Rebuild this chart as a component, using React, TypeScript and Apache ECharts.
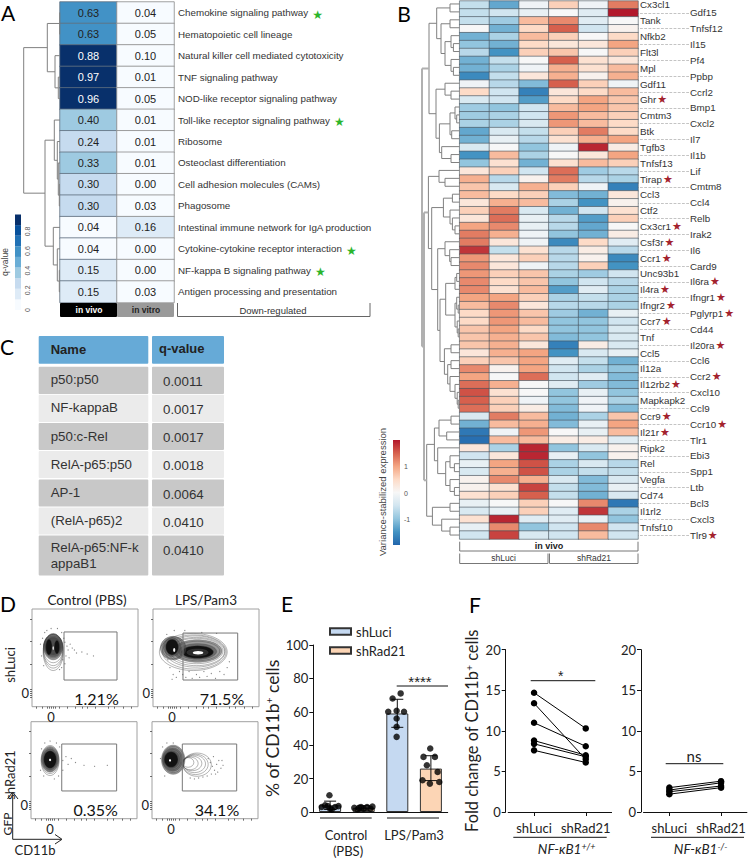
import React, { useEffect, useRef } from "react";
import * as echarts from "echarts";

const SANS = '"Liberation Sans", Arial, sans-serif';
const LATO = 'Lato, "Noto Sans", sans-serif';

// ---------- Panel A ----------
const pathways = [
  "Chemokine signaling pathway", "Hematopoietic cell lineage", "Natural killer cell mediated cytotoxicity",
  "TNF signaling pathway", "NOD-like receptor signaling pathway", "Toll-like receptor signaling pathway",
  "Ribosome", "Osteoclast differentiation", "Cell adhesion molecules (CAMs)", "Phagosome",
  "Intestinal immune network for IgA production", "Cytokine-cytokine receptor interaction",
  "NF-kappa B signaling pathway", "Antigen processing and presentation",
];
const starredPathways = [
  "Chemokine signaling pathway", "Toll-like receptor signaling pathway",
  "Cytokine-cytokine receptor interaction", "NF-kappa B signaling pathway",
];
const qInVivo = [0.63, 0.63, 0.88, 0.97, 0.96, 0.4, 0.24, 0.33, 0.3, 0.3, 0.04, 0.04, 0.15, 0.15];
const qInVitro = [0.04, 0.05, 0.1, 0.01, 0.05, 0.01, 0.01, 0.01, 0.0, 0.03, 0.16, 0.0, 0.0, 0.03];
const blues = ["#f7fbff", "#deebf7", "#c6dbef", "#9ecae1", "#6baed6", "#4292c6", "#2171b5", "#08519c", "#08306b"];
const blueEdges = [0, 0.108, 0.216, 0.324, 0.432, 0.54, 0.648, 0.756, 0.864, 0.972];
// tree: [height, child, child]; a number is a row
const treeA: any = [36.3,
  [12.7, [0.3, 0, 1], [5, 2, [1.7, 3, 4]]],
  [15, [5.7, 5, [2.7, 6, [1.7, 7, [0.7, 8, 9]]]], [6.7, 10, [2.7, 11, [0.7, 12, 13]]]],
];

// ---------- Panel B ----------
const genes = [
  "Cx3cl1", "Gdf15", "Tank", "Tnfsf12", "Nfkb2", "Il15", "Flt3l", "Pf4", "Mpl", "Ppbp", "Gdf11", "Ccrl2", "Ghr", "Bmp1",
  "Cmtm3", "Cxcl2", "Btk", "Il7", "Tgfb3", "Il1b", "Tnfsf13", "Lif", "Tirap", "Cmtm8", "Ccl3", "Ccl4", "Ctf2", "Relb",
  "Cx3cr1", "Irak2", "Csf3r", "Il6", "Ccr1", "Card9", "Unc93b1", "Il6ra", "Il4ra", "Ifngr1", "Ifngr2", "Pglyrp1", "Ccr7",
  "Cd44", "Tnf", "Il20ra", "Ccl5", "Ccl6", "Il12a", "Ccr2", "Il12rb2", "Cxcl10", "Mapkapk2", "Ccl9", "Ccr9", "Ccr10",
  "Il21r", "Tlr1", "Ripk2", "Ebi3", "Rel", "Spp1", "Vegfa", "Ltb", "Cd74", "Bcl3", "Il1rl2", "Cxcl3", "Tnfsf10", "Tlr9",
];
const starredGenes = ["Ghr", "Tirap", "Cx3cr1", "Csf3r", "Ccr1", "Il6ra", "Il4ra", "Ifngr1", "Ifngr2", "Pglyrp1", "Ccr7",
  "Il20ra", "Ccr2", "Il12rb2", "Ccr9", "Ccr10", "Il21r", "Tlr9"];
const expression = [
  [-0.6, -1.3, -0.1, 0.6, -0.1, 1.3], [-0.6, -0.5, -0.2, 0, -0.3, 2], [-0.6, -0.9, 0.8, 1.2, -0.3, 0],
  [0, -1.2, 0.5, 1.5, -0.5, 0.1], [-1.2, -0.8, 0.8, 0.6, 0, 0.5], [-1, -1.2, 0.5, 0.3, 0.3, 1],
  [-0.7, -1.5, 0.6, 0.7, 0, 0.6], [-1.2, -0.6, 0, 1.5, 0.4, 0.3], [-1.2, -0.8, -0.1, 0.9, 0.4, 0.8],
  [-1.6, -0.6, 0.3, 0.9, 0.1, 0.9], [-0.1, -0.7, -1.1, 1.5, 0.6, -0.1], [0.5, -0.5, -1.7, 0.3, 0.5, 0.8],
  [-0.4, -0.5, -1.4, 0.5, 1, 0.7], [-0.9, -1, -0.5, 0.8, 1, 0.7], [-0.9, -0.8, -0.5, 1.1, 0.8, 0.6],
  [-0.8, -0.8, -0.4, 1.1, 0.8, 0.5], [-1.3, -0.4, -0.6, 0.6, 1.3, 0.5], [-1.2, -0.2, -0.7, 0.4, 0.9, 1],
  [-0.4, 0, -1, -0.1, 1.9, 0.2], [-1.5, 0.8, -0.8, 0, 0.3, 1], [-1, 0.4, -1.2, 0.4, 0.8, 0.6],
  [0.3, 0.6, -0.5, 1.4, -0.9, -0.7], [0.9, -0.7, 0.1, 1.3, -0.7, -0.8], [0.7, -0.4, 0.9, 0.6, -0.1, -1.7],
  [0.8, 0.5, 0.6, -1.1, -1.2, 0.3], [0.3, 0.9, 0.8, -0.8, -1.5, 0.1], [0.6, 1.3, -0.4, -1.2, -0.5, 0.4],
  [0.3, 1.4, -0.2, -0.7, -1.4, 0.6], [1, 1.2, -0.2, -0.7, -1.3, 0], [1.3, 0.9, -0.1, -1, -1.2, 0.2],
  [1.3, 0.3, -0.1, -1.6, 0.5, -0.3], [1.8, -0.6, 0.4, -0.7, 0.2, -0.7], [1.1, 0.3, 0.6, -0.7, 0.1, -1.6],
  [1.2, 0.3, -0.1, -0.7, 0.6, -1.5], [1.1, 0.6, 0.7, -0.8, -0.9, -0.5], [1.2, 0.5, 0.7, -1, -0.5, -0.7],
  [1.2, 0.4, 0.8, -1.4, -0.3, -0.8], [1, 1, 0.6, -0.8, -0.6, -0.8], [0.8, 1.2, 0.3, -0.7, -0.7, -0.8],
  [0.5, 1.1, 0.7, -0.9, -1.2, -0.2], [0.5, 1.1, 0.8, -1, -1, -0.5], [0.7, 1, 0.5, -1, -1, -0.4],
  [0.7, 0.9, 0.7, -1.1, -1, -0.4], [0.7, 0.9, 0.3, -1.7, 0.2, -0.4], [0.3, 0.9, 1, -1.5, -0.4, -0.2],
  [0.6, 0.7, 1, -0.3, -0.6, -1.2], [1.2, 0.1, 1, -0.5, -0.8, -1], [1, 0, 1.4, -0.5, -0.3, -1.1],
  [1.4, 0.9, 0, -0.3, -0.9, -1.1], [1.6, 0.4, 0, -1, -0.2, -1], [1.5, 0.6, -0.1, -1, -0.1, -0.8],
  [1.4, 0.6, 0.2, -1.1, -0.1, -1.1], [-0.4, 1.3, 0.8, -1.2, -0.8, 0.7], [-1.2, 0.8, 0.9, -1.1, -0.2, 1],
  [-1.8, -0.1, 1.1, 0, -0.2, 0.8], [-1.9, 0.8, 0.8, 0.2, 0.2, -0.3], [0.3, -0.8, 1.9, -1, -0.4, 0.1],
  [-0.5, 0.3, 1.9, -0.2, -1, 0.1], [-0.2, 1, 1.6, -0.8, -0.4, -0.7], [-0.4, 0.9, 1.6, -0.8, -0.6, -0.6],
  [0.1, 1.2, 0.9, -0.4, -1.1, -0.4], [0.1, 0.4, 1.7, -0.6, -1.1, -0.2], [0.4, 0.6, 1.5, -0.6, -1.2, -0.4],
  [-0.2, 0, 0.6, 0, 1.2, -1.8], [-0.4, -0.2, 0.6, -0.3, 1.8, -0.8], [0.4, 1.9, -0.3, -0.3, -0.2, -1],
  [-0.2, 1.2, -1, -0.5, 1.2, -0.5], [-0.5, 1.7, -0.4, -0.5, 0.8, -0.5],
];
const rdbu = ["#2166ac", "#4393c3", "#92c5de", "#d1e5f0", "#f7f7f7", "#fddbc7", "#f4a582", "#d6604d", "#b2182b"];
const treeB: any = [37.7,
  [30.7,
    [23, [9.7, 0, 1], [18.7, [9.7, 2, 3], [14.7, [8.7, 4, [6.3, 5, 6]], [8.7, 7, [6.3, 8, 9]]]]],
    [23.7, [14.7, 10, [8.7, 11, 12]], [20.3, [9.7, [4.7, 13, [3, 14, 15]], [8, 16, 17]], [18, 18, [8.7, 19, 20]]]],
  ],
  [35.7,
    [31.3,
      [20.7, 21, [14.7, 22, 23]],
      [28,
        [16.3, [7.3, 24, 25], [9.7, 26, [7.3, 27, [4.7, 28, 29]]]],
        [22,
          [14.7, 30, [10, 31, [8.7, 32, 33]]],
          [19.7,
            [14, [4.7, [3, 34, 35], 36], [4.7, [3, 37, [1.5, 38, 39]], [2.5, 40, [1.5, 41, 42]]]],
            [15.3, [8.7, 43, 44], [12, [8.7, 45, 46], [9.7, 47, [4.7, 48, [2.5, 49, [1.5, 50, 51]]]]]],
          ],
        ],
      ],
    ],
    [33,
      [25.3, [20.7, [8.7, 52, 53], [13, 54, 55]], [22, 56, [14, [9.7, 57, [5.3, 58, 59]], [9.7, 60, [5.3, 61, 62]]]]],
      [27.3, [9.7, 63, 64], [18, 65, [9.7, 66, 67]]],
    ],
  ],
];

// ---------- Panel C ----------
const tfNames = ["p50:p50", "NF-kappaB", "p50:c-Rel", "RelA-p65:p50", "AP-1", "(RelA-p65)2", "RelA-p65:NF-k\nappaB1"];
const tfQValues = ["0.0011", "0.0017", "0.0017", "0.0018", "0.0064", "0.0410", "0.0410"];

// ---------- Panel D: axis units 0-100; [cx, cy, rx, ry, shade] ----------
const flowTitles = ["Control (PBS)", "LPS/Pam3"];
const flowPercents = ["1.21%", "71.5%", "0.35%", "34.1%"];
const flowGates = [[30.2, 27.3, 80.2, 76.5], [28.3, 27.3, 79.9, 75.4], [29, 28.6, 80.8, 77], [28.6, 28.6, 79.9, 77]];
const contoursCtrlLuci = [
  [20, 56, 9.5, 19, 0], [20, 57, 9.2, 17.5, 0], [20, 58, 9.2, 16, 0], [20, 59.5, 9.2, 14.5, 0], [20, 61, 9, 13, 3],
  [20, 62, 9, 12, 0], [20, 62, 8.5, 11, 3], [20, 62, 8, 10, 0], [20, 62, 7.5, 9, 3], [20, 62, 7, 8.5, 0], [20, 62, 6.5, 8, 3],
  [16, 61, 3, 8, 1], [23.5, 61, 2.5, 7, 1], [20, 60, 0.6, 2, 2],
];
const contoursLpsLuci = [
  [38, 56, 32, 19, 0], [39, 56, 30, 17.5, 0], [40, 56.5, 28, 16, 0], [41, 56.5, 26.5, 14.5, 0], [41, 57, 25, 13, 0],
  [42, 57, 23, 11.5, 3], [42, 57, 21, 10, 0], [42, 56.5, 18, 8, 3], [42, 56, 15, 6.5, 1], [42, 55.5, 10, 3.5, 3], [42.5, 55.3, 5, 1.8, 2],
  [19, 60, 12, 12, 3], [19, 60, 10, 11, 0], [18, 61, 8, 9.5, 3], [18, 61, 6, 8, 1], [20, 58, 1, 2, 2],
];
const contoursCtrlRad = [
  [18, 60, 8.5, 15.5, 0], [18, 60.5, 8.2, 14, 0], [18, 61, 8, 13, 3], [18, 61, 7.5, 12, 0], [18, 61, 7, 11, 3],
  [18, 61, 6.5, 10, 0], [18, 61, 6, 9, 1], [18, 60.5, 1, 1.2, 2],
];
const contoursLpsRad = [
  [42.5, 55.7, 13.5, 12, 0], [41, 56, 12, 10.5, 0], [40, 56.5, 10.5, 9, 0], [38, 57, 9, 7.5, 0], [36, 57, 7.5, 6.5, 0], [34, 58, 5.5, 5, 0],
  [20, 60.8, 11, 15, 3], [20, 61, 10, 13.5, 0], [19.5, 61, 9.5, 12, 3], [19, 61, 8.5, 10.5, 0], [18.5, 61, 7.5, 9, 3],
  [18, 61, 6.5, 8, 1], [17, 60, 1, 1.2, 2],
];
const dotsCtrlLuci = [[31, 66], [33, 62], [34, 58], [36, 64], [38, 60], [40, 58], [32, 52], [35, 50], [42, 55], [47, 56], [52, 54], [58, 52], [30, 70], [29, 48], [10, 70], [12, 76], [8, 64], [9, 52], [28, 76], [24, 80], [18, 80], [14, 78], [11, 42], [28, 40], [26, 38], [31, 44]];
const dotsLpsLuci = [[16, 40], [19, 33], [22, 30], [25, 36], [28, 33], [31, 30], [34, 36], [37, 29], [41, 33], [44, 30], [48, 36], [51, 31], [55, 34], [59, 29], [63, 36], [67, 33], [70, 40], [72, 46], [18, 28], [14, 48], [11, 66], [13, 74], [20, 78], [30, 78], [46, 76], [60, 75]];
const dotsCtrlRad = [[30, 60], [33, 64], [35, 56], [38, 62], [42, 58], [50, 55], [60, 54], [72, 55], [10, 72], [13, 78], [18, 80], [24, 78], [27, 74], [9, 50], [12, 44], [26, 44], [22, 41], [30, 50]];
const dotsLpsRad = [[53, 62], [55, 58], [57, 54], [59, 50], [61, 56], [63, 60], [65, 52], [67, 55], [60, 46], [56, 46], [52, 44], [48, 43], [44, 42], [40, 41], [36, 42], [58, 64], [62, 48], [10, 74], [14, 78], [20, 78], [8, 62], [12, 44], [66, 60]];
const flowContours = [contoursCtrlLuci, contoursLpsLuci, contoursCtrlRad, contoursLpsRad];
const flowDots = [dotsCtrlLuci, dotsLpsLuci, dotsCtrlRad, dotsLpsRad];
const flowYTicks = [89.8, 67.2, 43.4, 18, 16, 14, 12, 10];
const flowXTicks = [4, 10, 14, 16, 18, 20, 22, 26, 33, 41, 47, 52, 60, 72, 78, 86, 94];

// ---------- Panel E ----------
const barCategories = ["Control shLuci", "Control shRad21", "LPS shLuci", "LPS shRad21"];
const barLuci: any[] = [4, "-", 59, "-"];
const barRad: any[] = ["-", 2.5, "-", 26];
const barErrors = [[0.5, 1.5, 6.5], [1.5, 1, 3.8], [2.5, 50.7, 67.5], [3.5, 18.8, 33.7]];
const barDots = [
  [0.48, 10], [0.25, 3], [0.35, 4], [0.5, 2], [0.65, 3], [0.75, 3.5], [0.43, 3.5], [0.55, 1.5],
  [1.22, 2.5], [1.32, 1.5], [1.42, 3], [1.5, 2], [1.6, 3], [1.7, 2], [1.76, 3.2], [1.36, 2.5],
  [2.6, 71], [2.36, 68], [2.23, 60], [2.7, 60], [2.48, 60.6], [2.48, 56], [2.48, 51], [2.48, 45],
  [3.48, 38], [3.28, 33], [3.62, 33], [3.38, 28], [3.7, 24], [3.25, 19], [3.47, 17], [3.75, 18],
];

// ---------- Panel F ----------
const pairCategories = ["shLuci", "shRad21"];
const wtLuci = [14.7, 13.4, 11, 8.8, 8.4, 7.6];
const wtRad = [10.3, 6.5, 8.1, 7, 6.8, 6.1];
const koLuci = [3, 2.7, 2.5, 2.2];
const koRad = [3.8, 3.6, 3.2, 3];

function flatten(node: any): { y: number; h: number; segs: number[][] } {
  if (typeof node === "number") return { y: node, h: 0, segs: [] };
  const a = flatten(node[1]);
  const b = flatten(node[2]);
  const h = node[0];
  const segs = [...a.segs, ...b.segs, [a.h, a.y, h, a.y, h], [b.h, b.y, h, b.y, h], [h, a.y, h, b.y, h]];
  return { y: (a.y + b.y) / 2, h, segs };
}

function makeOption() {
  const grid: any[] = [], xAxis: any[] = [], yAxis: any[] = [], series: any[] = [], graphic: any[] = [], visualMap: any[] = [];
  const addGrid = (left: number, top: number, width: number, height: number, extra: any = {}) => {
    grid.push({ left, top, width, height, containLabel: false, ...extra });
    return grid.length - 1;
  };
  const addX = (o: any) => { xAxis.push(o); return xAxis.length - 1; };
  const addY = (o: any) => { yAxis.push(o); return yAxis.length - 1; };
  const hidden = { show: false };
  const text = (t: string, x: number, y: number, o: any = {}) => {
    const { rotation, ...style } = o;
    graphic.push({
      type: "text", x, y, rotation: rotation || 0, silent: true, z: 50,
      style: { text: t, fontSize: 13, fontFamily: LATO, fill: "#222", textAlign: "center", textVerticalAlign: "middle", align: "center", verticalAlign: "middle", ...style },
    });
  };
  const poly = (pts: number[][], stroke = "#444", lineWidth = 1) =>
    graphic.push({ type: "polyline", silent: true, z: 50, shape: { points: pts }, style: { stroke, lineWidth, fill: "none" } });
  const rect = (x: number, y: number, w: number, h: number, fill: string) =>
    graphic.push({ type: "rect", silent: true, z: 40, shape: { x, y, width: w, height: h, r: 1 }, style: { fill } });

  const dendro = (gi: number, tree: any, maxH: number, rows: number, wideFrom: number) => {
    const xi = addX({ gridIndex: gi, type: "value", min: 0, max: maxH, inverse: true, show: false });
    const yi = addY({ gridIndex: gi, type: "value", min: -0.5, max: rows - 0.5, inverse: true, show: false });
    series.push({
      type: "custom", coordinateSystem: "cartesian2d", xAxisIndex: xi, yAxisIndex: yi, silent: true, clip: false,
      data: flatten(tree).segs,
      renderItem: (_: any, api: any) => {
        const p = api.coord([api.value(0), api.value(1)]);
        const q = api.coord([api.value(2), api.value(3)]);
        const wide = api.value(4) >= wideFrom;
        return { type: "line", shape: { x1: p[0], y1: p[1], x2: q[0], y2: q[1] }, style: { stroke: wide ? "#b0b0b0" : "#808080", lineWidth: wide ? 2 : 1 } };
      },
    });
  };

  // ---- A heatmap ----
  const gA = addGrid(60, 2, 114, 300.5);
  const xA = addX({ gridIndex: gA, type: "category", data: ["in vivo", "in vitro"], show: false });
  const yA = addY({
    gridIndex: gA, type: "category", data: pathways, inverse: true, position: "right",
    axisLine: hidden, axisTick: hidden,
    axisLabel: {
      show: true, interval: 0, margin: 4,
      formatter: (v: string) => (starredPathways.includes(v) ? `{n|${v}}{s|★}` : `{n|${v}}`),
      rich: {
        n: { fontFamily: SANS, fontSize: 9.8, color: "#333" },
        s: { fontFamily: '"DejaVu Sans"', fontSize: 12, color: "#2bb52b", padding: [4, 0, 0, 4] },
      },
    },
  });
  const cellsA: any[] = [];
  [qInVivo, qInVitro].forEach((col, c) => col.forEach((v, r) =>
    cellsA.push({ value: [c, r, v], label: { color: v > 0.7 ? "#fff" : "#222" }, itemStyle: { borderColor: c === 0 ? "#5f6f7f" : "#8a8a8a" } })));
  visualMap.push({
    show: false, type: "piecewise", seriesIndex: series.length, dimension: 2,
    pieces: blues.map((color, i) => ({ gte: blueEdges[i], lt: blueEdges[i + 1], color })),
  });
  series.push({
    type: "heatmap", xAxisIndex: xA, yAxisIndex: yA, data: cellsA, silent: true,
    itemStyle: { borderWidth: 0.8 },
    label: { show: true, fontFamily: SANS, fontSize: 11, formatter: (p: any) => p.value[2].toFixed(2) },
  });
  dendro(addGrid(0, 2, 60, 300.5), treeA, 60, 14, 999);

  // ---- A colour bar ----
  const gCa = addGrid(15, 214.5, 6, 95.5);
  const xCa = addX({ gridIndex: gCa, type: "category", data: ["q"], show: false });
  const yCa = addY({
    gridIndex: gCa, type: "value", min: 0, max: 0.972, position: "right", splitLine: hidden, axisLine: hidden, axisTick: hidden,
    axisLabel: { show: true, customValues: [0, 0.2, 0.4, 0.6, 0.8], rotate: 90, margin: 3, fontSize: 7, fontFamily: SANS, color: "#555", formatter: (v: number) => String(v) },
  });
  series.push({
    type: "custom", coordinateSystem: "cartesian2d", xAxisIndex: xCa, yAxisIndex: yCa, silent: true,
    data: blues.map((_, i) => [0, blueEdges[i], blueEdges[i + 1], i]),
    renderItem: (_: any, api: any) => {
      const lo = api.coord([0, api.value(1)]);
      const hi = api.coord([0, api.value(2)]);
      return { type: "rect", shape: { x: lo[0] - 3, y: hi[1], width: 6, height: lo[1] - hi[1] }, style: { fill: blues[api.value(3)] } };
    },
  });
  text("q-value", 5, 262, { rotation: Math.PI / 2, fontFamily: SANS, fontSize: 8.5, fill: "#444" });

  // A footer
  rect(60, 303, 57, 14, "#000");
  rect(117, 303, 57, 14, "#9a9a9a");
  text("in vivo", 89, 310, { fontFamily: SANS, fontSize: 8.5, fontWeight: "bold", fill: "#fff" });
  text("in vitro", 146, 310, { fontFamily: SANS, fontSize: 8.5, fontWeight: "bold", fill: "#222" });
  poly([[177.5, 303], [177.5, 316.5], [370, 316.5], [370, 303]], "#666");
  text("Down-regulated", 273, 310, { fontFamily: SANS, fontSize: 9.5, fill: "#333" });

  // ---- B heatmap ----
  const gB = addGrid(459.7, -0.3, 178.3, 539.3);
  const xB = addX({ gridIndex: gB, type: "category", data: ["1", "2", "3", "4", "5", "6"], show: false });
  const geneRich = {
    n: { fontFamily: SANS, fontSize: 9.8, color: "#333" },
    s: { fontFamily: '"DejaVu Sans"', fontSize: 11, color: "#a3222d", padding: [0, 0, 0, 1] },
  };
  const geneFmt = (odd: number) => (v: string, i: number) =>
    i % 2 !== odd ? "" : starredGenes.includes(v) ? `{n|${v}}{s|★}` : `{n|${v}}`;
  const yB = addY({
    gridIndex: gB, type: "category", data: genes, inverse: true, position: "right",
    axisLine: hidden, axisTick: hidden,
    axisLabel: { show: true, interval: 0, margin: 2, formatter: geneFmt(0), rich: geneRich },
  });
  addY({
    gridIndex: gB, type: "category", data: genes, inverse: true, position: "right", offset: 51,
    axisLine: { show: false },
    axisTick: { show: true, inside: true, length: 51, alignWithLabel: true, interval: (i: number) => i % 2 === 1, lineStyle: { color: "#aaa", width: 0.7, type: "dashed" } },
    axisLabel: { show: true, interval: 0, margin: 1, formatter: geneFmt(1), rich: geneRich },
  });
  const cellsB: number[][] = [];
  expression.forEach((row, r) => row.forEach((v, c) => cellsB.push([c, r, v])));
  visualMap.push({ show: false, type: "continuous", seriesIndex: series.length, dimension: 2, min: -2, max: 2, inRange: { color: rdbu } });
  series.push({
    type: "heatmap", xAxisIndex: xB, yAxisIndex: yB, data: cellsB, silent: true,
    itemStyle: { borderColor: "#44505a", borderWidth: 0.6 },
  });
  dendro(addGrid(415, -0.3, 44.7, 539.3), treeB, 44.7, 68, 34);

  // ---- B colour bar ----
  const gCb = addGrid(393, 440, 7, 105);
  const xCb = addX({ gridIndex: gCb, type: "category", data: ["e"], show: false });
  const yCb = addY({
    gridIndex: gCb, type: "value", min: -1.95, max: 2, position: "right", splitLine: hidden, axisLine: hidden, axisTick: hidden,
    axisLabel: { show: true, customValues: [-1, 0, 1], margin: 4, fontSize: 7, fontFamily: SANS, color: "#555", formatter: (v: number) => String(v) },
  });
  series.push({
    type: "custom", coordinateSystem: "cartesian2d", xAxisIndex: xCb, yAxisIndex: yCb, silent: true,
    data: [[0, -1.95, 2]],
    renderItem: (_: any, api: any) => {
      const lo = api.coord([0, api.value(1)]);
      const hi = api.coord([0, api.value(2)]);
      return {
        type: "rect", shape: { x: lo[0] - 3.5, y: hi[1], width: 7, height: lo[1] - hi[1] },
        style: { fill: new echarts.graphic.LinearGradient(0, 1, 0, 0, rdbu.map((color, i) => ({ offset: i / (rdbu.length - 1), color }))) },
      };
    },
  });
  text("Variance-stabilized expression", 382, 492, { rotation: Math.PI / 2, fontFamily: SANS, fontSize: 9.5, fill: "#444" });
  poly([[459.7, 541.7], [459.7, 551], [638, 551], [638, 541.7]], "#777");
  text("in vivo", 549, 545.7, { fontFamily: SANS, fontSize: 9, fontWeight: "bold", fill: "#222" });
  poly([[459.7, 553.5], [459.7, 563.5], [548, 563.5], [548, 553.5]], "#777");
  poly([[549.5, 553.5], [549.5, 563.5], [638, 563.5], [638, 553.5]], "#777");
  text("shLuci", 503.5, 558, { fontFamily: SANS, fontSize: 8.5, fill: "#333" });
  text("shRad21", 594, 558, { fontFamily: SANS, fontSize: 8.5, fill: "#333" });

  // ---- C table ----
  const rowTops = [366.7, 394.7, 423, 451, 479.5, 507.5, 535.5];
  const rowBottoms = [394, 422, 450, 478, 506.5, 534.5, 575.5];
  rect(38.7, 336, 109.6, 27.7, "#66aad7");
  rect(152, 336, 72, 27.7, "#66aad7");
  text("Name", 50.7, 349.5, { fontFamily: SANS, fontSize: 13, fontWeight: "bold", fill: "#222", textAlign: "left", align: "left" });
  text("q-value", 159, 348.5, { fontFamily: SANS, fontSize: 13, fontWeight: "bold", fill: "#222", textAlign: "left", align: "left" });
  tfNames.forEach((name, i) => {
    const fill = i % 2 === 0 ? "#c8c8c8" : "#ebebeb";
    rect(38.7, rowTops[i], 109.6, rowBottoms[i] - rowTops[i], fill);
    rect(152, rowTops[i], 72, rowBottoms[i] - rowTops[i], fill);
    const multi = name.includes("\n");
    text(name, 50.7, multi ? 555.5 : rowTops[i] + 13, { fontFamily: SANS, fontSize: 13.3, fill: "#333", textAlign: "left", align: "left", lineHeight: 16 });
    text(tfQValues[i], 163, rowTops[i] + 14.5, { fontFamily: SANS, fontSize: 13.3, fill: "#333", textAlign: "left", align: "left" });
  });

  // ---- D flow plots ----
  const frames = [[32, 609, 106, 97.7], [153, 609, 106, 97.7], [31, 721.7, 106, 97], [152, 721.7, 106, 97]];
  frames.forEach((f, k) => {
    const gi = addGrid(f[0], f[1], f[2], f[3], { show: true, borderColor: "#a0a0a0", borderWidth: 1, backgroundColor: "#fff" });
    const xi = addX({
      gridIndex: gi, type: "value", min: 0, max: 100, splitLine: hidden, axisLine: hidden,
      axisTick: { show: true, customValues: flowXTicks, length: 2, lineStyle: { color: "#333", width: 0.7 } },
      axisLabel: { show: true, customValues: [18], margin: 4, fontFamily: LATO, fontSize: 13, color: "#222", formatter: () => "0" },
    });
    const yi = addY({
      gridIndex: gi, type: "value", min: 0, max: 100, splitLine: hidden, axisLine: hidden,
      axisTick: { show: true, customValues: flowYTicks, length: 2, lineStyle: { color: "#333", width: 0.7 } },
      axisLabel: { show: true, customValues: [14], margin: 3, fontFamily: LATO, fontSize: 13, color: "#222", formatter: () => "0" },
    });
    series.push({
      type: "scatter", xAxisIndex: xi, yAxisIndex: yi, silent: true, symbolSize: 1.2, data: flowDots[k],
      itemStyle: { color: "#666" },
    });
    series.push({
      type: "custom", coordinateSystem: "cartesian2d", xAxisIndex: xi, yAxisIndex: yi, silent: true,
      data: flowContours[k],
      renderItem: (_: any, api: any) => {
        const c = api.coord([api.value(0), api.value(1)]);
        const s = api.size([api.value(2), api.value(3)]);
        const shade = api.value(4);
        const fill = ["none", "#111", "#fff", "rgba(70,70,70,0.55)"][shade];
        return {
          type: "ellipse", shape: { cx: c[0], cy: c[1], rx: s[0], ry: s[1] },
          style: { fill, stroke: shade === 2 ? "none" : "#444", lineWidth: 0.4 },
        };
      },
    });
    series.push({
      type: "custom", coordinateSystem: "cartesian2d", xAxisIndex: xi, yAxisIndex: yi, silent: true,
      data: [flowGates[k]],
      renderItem: (_: any, api: any) => {
        const a = api.coord([api.value(0), api.value(1)]);
        const b = api.coord([api.value(2), api.value(3)]);
        return {
          type: "rect", shape: { x: a[0], y: b[1], width: b[0] - a[0], height: a[1] - b[1] },
          style: { fill: "none", stroke: "#777", lineWidth: 1 },
        };
      },
    });
  });
  text(flowTitles[0], 87, 600, { fontSize: 13.5 });
  text(flowTitles[1], 206, 600, { fontSize: 13.5 });
  text("shLuci", 10, 665, { rotation: Math.PI / 2, fontSize: 13 });
  text("shRad21", 10, 775, { rotation: Math.PI / 2, fontSize: 13 });
  [[96.5, 698], [222, 698], [95.6, 809], [217, 809]].forEach((p, i) => text(flowPercents[i], p[0], p[1], { fontSize: 16, fill: "#111" }));
  poly([[12.7, 793], [12.7, 839.3], [61, 839.3]], "#222", 1);
  poly([[7.5, 799], [12.7, 792], [18, 799]], "#222", 1);
  poly([[55, 834.5], [62, 839.3], [55, 844]], "#222", 1);
  text("GFP", 7, 824, { rotation: Math.PI / 2, fontSize: 12 });
  text("CD11b", 35, 850, { fontSize: 13 });

  // ---- E bars ----
  const axisBlack = { show: true, lineStyle: { color: "#111", width: 1 } };
  const gE = addGrid(313.3, 645, 134.4, 167);
  const xE = addX({ gridIndex: gE, type: "category", data: barCategories, axisLine: axisBlack, axisTick: hidden, axisLabel: hidden });
  const xE2 = addX({ gridIndex: gE, type: "value", min: 0, max: 4, show: false });
  const yE = addY({
    gridIndex: gE, type: "value", min: 0, max: 100, interval: 20, splitLine: hidden,
    axisLine: axisBlack, axisTick: { show: true, length: 4, lineStyle: { color: "#111" } },
    axisLabel: { fontFamily: LATO, fontSize: 13, color: "#222", margin: 5 },
    name: "% of CD11b{s|+} cells", nameLocation: "middle", nameGap: 18, nameRotate: 90,
    nameTextStyle: { fontFamily: LATO, fontSize: 17.5, color: "#222", rich: { s: { fontFamily: LATO, fontSize: 10, color: "#222", verticalAlign: "top" } } },
  });
  const barStyle = (color: string) => ({ color, borderColor: "#333", borderWidth: 1 });
  series.push({ name: "shLuci", type: "bar", xAxisIndex: xE, yAxisIndex: yE, data: barLuci, barWidth: 22, barGap: "-100%", itemStyle: barStyle("#c5d9f1"), silent: true });
  series.push({ name: "shRad21", type: "bar", xAxisIndex: xE, yAxisIndex: yE, data: barRad, barWidth: 22, barGap: "-100%", itemStyle: barStyle("#fcd5b5"), silent: true });
  series.push({
    type: "custom", coordinateSystem: "cartesian2d", xAxisIndex: xE2, yAxisIndex: yE, silent: true, z: 5,
    data: barErrors,
    renderItem: (_: any, api: any) => {
      const a = api.coord([api.value(0), api.value(1)]);
      const b = api.coord([api.value(0), api.value(2)]);
      const st = { stroke: "#111", lineWidth: 1 };
      return {
        type: "group", children: [
          { type: "line", shape: { x1: a[0], y1: a[1], x2: b[0], y2: b[1] }, style: st },
          { type: "line", shape: { x1: a[0] - 6, y1: a[1], x2: a[0] + 6, y2: a[1] }, style: st },
          { type: "line", shape: { x1: b[0] - 6, y1: b[1], x2: b[0] + 6, y2: b[1] }, style: st },
        ],
      };
    },
  });
  series.push({
    type: "scatter", xAxisIndex: xE2, yAxisIndex: yE, silent: true, symbolSize: 6.5, z: 6, data: barDots,
    itemStyle: { color: "#000" },
  });
  poly([[320, 818], [371.7, 818]], "#111");
  poly([[387, 818], [439, 818]], "#111");
  text("Control", 346, 835, { fontSize: 13 });
  text("(PBS)", 348, 851, { fontSize: 13 });
  text("LPS/Pam3", 414, 835, { fontSize: 13 });
  poly([[396.7, 686], [448, 686]], "#111");
  text("****", 420, 681, { fontFamily: SANS, fontSize: 15 });

  // ---- F paired ----
  const pairPanel = (left: number, width: number, yOffset: number, a: number[], b: number[], named: boolean) => {
    const gi = addGrid(left, 649.7, width, 162.3);
    const xi = addX({
      gridIndex: gi, type: "category", data: pairCategories, axisLine: axisBlack,
      axisTick: { show: true, alignWithLabel: true, length: 4, lineStyle: { color: "#111" } },
      axisLabel: { interval: 0, fontFamily: LATO, fontSize: 13, color: "#222", margin: 9 },
    });
    const yi = addY({
      gridIndex: gi, type: "value", min: 0, max: 20, interval: 5, offset: yOffset, splitLine: hidden,
      axisLine: axisBlack, axisTick: { show: true, length: 4, lineStyle: { color: "#111" } },
      axisLabel: { fontFamily: LATO, fontSize: 13, color: "#222", margin: 5 },
      ...(named ? {
        name: "Fold change of CD11b{s|+} cells", nameLocation: "middle", nameGap: 26, nameRotate: 90,
        nameTextStyle: { fontFamily: LATO, fontSize: 16.4, color: "#222", rich: { s: { fontFamily: LATO, fontSize: 10, color: "#222", verticalAlign: "top" } } },
      } : {}),
    });
    a.forEach((v, i) => series.push({
      type: "line", xAxisIndex: xi, yAxisIndex: yi, silent: true, data: [v, b[i]], symbol: "circle", symbolSize: 6.5,
      showSymbol: true, lineStyle: { color: "#000", width: 1 }, itemStyle: { color: "#000" },
    }));
  };
  pairPanel(508.2, 103.4, 2.5, wtLuci, wtRad, true);
  pairPanel(643.5, 103.4, 2.5, koLuci, koRad, false);
  poly([[530.7, 680.7], [595.3, 680.7]], "#111");
  text("*", 560.7, 676, { fontFamily: SANS, fontSize: 14 });
  poly([[513.3, 837.3], [606.7, 837.3]], "#111");
  poly([[665.7, 763.7], [723.3, 763.7]], "#111");
  text("ns", 694, 756, { fontSize: 15 });
  poly([[651, 837.3], [744, 837.3]], "#111");
  const ital = {
    a: { fontFamily: LATO, fontSize: 13.5, fontStyle: "italic", fill: "#222", color: "#222" },
    b: { fontFamily: LATO, fontSize: 9, fontStyle: "italic", fill: "#222", color: "#222", verticalAlign: "top" },
  };
  text("{a|NF-κB1}{b|+/+}", 566.7, 849, { rich: ital });
  text("{a|NF-κB1}{b|-/-}", 700.7, 849, { rich: ital });

  // ---- panel letters ----
  [["A", 8, 12], ["B", 404, 13], ["C", 7, 346], ["D", 8, 603], ["E", 287, 603], ["F", 475, 604]].forEach((l: any) =>
    text(l[0], l[1], l[2], { fontSize: 21, fill: "#000" }));

  return {
    animation: false, backgroundColor: "#fff", grid, xAxis, yAxis, series, visualMap, graphic,
    legend: {
      left: 324, top: 620, orient: "vertical", itemWidth: 21, itemHeight: 6.5, itemGap: 6, selectedMode: false,
      data: [{ name: "shLuci", icon: "rect" }, { name: "shRad21", icon: "rect" }],
      textStyle: { fontFamily: LATO, fontSize: 13, color: "#222" },
    },
  };
}

export default function App() {
  const ref = useRef<HTMLDivElement>(null);
  useEffect(() => {
    const chart = echarts.init(ref.current!, undefined, { renderer: "svg" });
    chart.setOption(makeOption() as any);
    return () => chart.dispose();
  }, []);
  return <div ref={ref} style={{ position: "fixed", left: 0, top: 0, width: 754, height: 859 }} />;
}
